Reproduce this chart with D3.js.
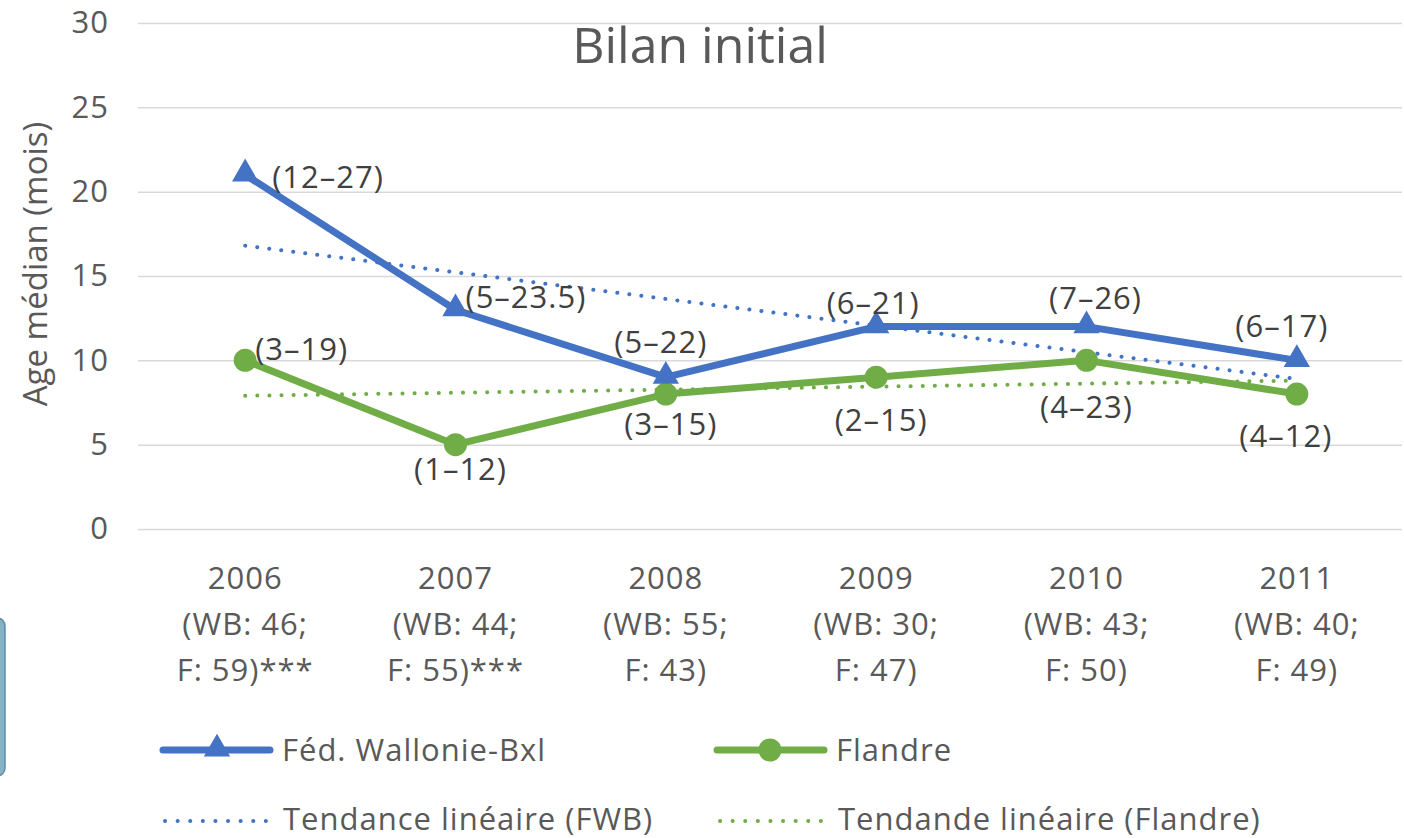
<!DOCTYPE html>
<html>
<head>
<meta charset="utf-8">
<script src="https://cdn.jsdelivr.net/npm/d3@7"></script>
<style>
    body { margin: 0; background: #fff; }
    svg { display: block; font-family: "Open Sans", sans-serif; }
</style>
</head>
<body>
<svg id="chart"></svg>
<script>
"use strict";

const width = 1404;
const height = 838;

// data
const years = ["2006", "2007", "2008", "2009", "2010", "2011"];
const sampleLines = [
    ["(WB: 46;", "F: 59)***"],
    ["(WB: 44;", "F: 55)***"],
    ["(WB: 55;", "F: 43)"],
    ["(WB: 30;", "F: 47)"],
    ["(WB: 43;", "F: 50)"],
    ["(WB: 40;", "F: 49)"]
];
const fwbValues = [21, 13, 9, 12, 12, 10];
const flandreValues = [10, 5, 8, 9, 10, 8];
const fwbRanges = ["(12–27)", "(5–23.5)", "(5–22)", "(6–21)", "(7–26)", "(6–17)"];
const flandreRanges = ["(3–19)", "(1–12)", "(3–15)", "(2–15)", "(4–23)", "(4–12)"];
// linear trend end points (2006 and 2011)
const trendYears = ["2006", "2011"];
const fwbTrend = [16.8, 8.9];
const flandreTrend = [7.9, 8.8];
const yTicks = [0, 5, 10, 15, 20, 25, 30];

// label placement relative to the marker: [dx, dy of text centre, anchor]
const fwbLabelPos = [[27, 3, "start"], [10, -12, "start"], [-5, -34, "middle"],
    [-3, -23, "middle"], [9, -28, "middle"], [-15, -33, "middle"]];
const flandreLabelPos = [[10, -10, "start"], [5, 25, "middle"], [5, 31, "middle"],
    [5, 44, "middle"], [0, 48, "middle"], [-11, 43, "middle"]];

const blue = "#4472c4";
const green = "#70ad47";
const textColor = "#595959";
const labelColor = "#404040";
const fontSize = 31;
const spacing = "1px";

const svg = d3.select("#chart")
    .attr("width", width)
    .attr("height", height);

const x_scale = d3.scalePoint()
    .domain(years)
    .range([140, 1402])
    .padding(0.5);

const y_scale = d3.scaleLinear()
    .domain([0, 30])
    .range([529, 23]);

// slide fragment on the left edge
svg.append("rect")
    .attr("x", -30).attr("y", 618)
    .attr("width", 35).attr("height", 158)
    .attr("rx", 8)
    .attr("fill", "#85b2c6")
    .attr("stroke", "#5f8ea4")
    .attr("stroke-width", 1.5);

// gridlines + y axis
const axis_y = svg.append("g")
    .attr("transform", "translate(138, 0)")
    .call(d3.axisLeft(y_scale).tickValues(yTicks).tickSize(-(1402 - 138)).tickPadding(29));
axis_y.select(".domain").remove();
axis_y.selectAll(".tick line").attr("stroke", "#d9d9d9").attr("stroke-width", 1.5);
axis_y.selectAll(".tick text")
    .attr("fill", textColor)
    .style("font-size", fontSize + "px")
    .style("letter-spacing", spacing)
    .style("font-family", "'Open Sans', sans-serif");

svg.append("text")
    .attr("transform", "translate(47, 264) rotate(-90)")
    .attr("text-anchor", "middle")
    .attr("fill", textColor)
    .style("font-size", "33px")
    .text("Age médian (mois)");

// title
svg.append("text")
    .attr("x", 700).attr("y", 63)
    .attr("text-anchor", "middle")
    .attr("fill", textColor)
    .style("font-size", "50px")
    .text("Bilan initial");

// x axis labels
const xlab = svg.append("g")
    .selectAll("text")
    .data(years)
    .enter()
    .append("text")
    .attr("text-anchor", "middle")
    .attr("fill", textColor)
    .style("font-size", fontSize + "px")
    .style("letter-spacing", spacing);
xlab.each(function (d, i) {
    const t = d3.select(this);
    const lines = [d].concat(sampleLines[i]);
    lines.forEach((s, j) => {
        t.append("tspan")
            .attr("x", x_scale(d))
            .attr("y", 589 + j * 46)
            .text(s);
    });
});

// trend lines
const trendLine = d3.line()
    .x(d => x_scale(d[0]))
    .y(d => y_scale(d[1]));

svg.append("path")
    .datum(d3.zip(trendYears, flandreTrend))
    .attr("d", trendLine)
    .attr("fill", "none")
    .attr("stroke", green)
    .attr("stroke-width", 4)
    .attr("stroke-linecap", "round")
    .attr("stroke-dasharray", "0.1 12");

svg.append("path")
    .datum(d3.zip(trendYears, fwbTrend))
    .attr("d", trendLine)
    .attr("fill", "none")
    .attr("stroke", blue)
    .attr("stroke-width", 4)
    .attr("stroke-linecap", "round")
    .attr("stroke-dasharray", "0.1 12");

// series lines
const seriesLine = d3.line()
    .x((d, i) => x_scale(years[i]))
    .y(d => y_scale(d));

svg.append("path")
    .datum(flandreValues)
    .attr("d", seriesLine)
    .attr("fill", "none")
    .attr("stroke", green)
    .attr("stroke-width", 7)
    .attr("stroke-linejoin", "round");

svg.append("path")
    .datum(fwbValues)
    .attr("d", seriesLine)
    .attr("fill", "none")
    .attr("stroke", blue)
    .attr("stroke-width", 7)
    .attr("stroke-linejoin", "round");

const triangle = d3.symbol().type(d3.symbolTriangle).size(300);

svg.append("g")
    .selectAll("circle")
    .data(flandreValues)
    .enter()
    .append("circle")
    .attr("cx", (d, i) => x_scale(years[i]))
    .attr("cy", d => y_scale(d))
    .attr("r", 11.5)
    .attr("fill", green);

svg.append("g")
    .selectAll("path")
    .data(fwbValues)
    .enter()
    .append("path")
    .attr("d", triangle)
    .attr("transform", (d, i) => `translate(${x_scale(years[i])}, ${y_scale(d) - 1})`)
    .attr("fill", blue);

// data labels
function addLabels(values, texts, pos) {
    svg.append("g")
        .selectAll("text")
        .data(values)
        .enter()
        .append("text")
        .attr("x", (d, i) => x_scale(years[i]) + pos[i][0])
        .attr("y", (d, i) => y_scale(d) + pos[i][1] + 10)
        .attr("text-anchor", (d, i) => pos[i][2])
        .attr("fill", labelColor)
        .style("font-size", fontSize + "px")
        .style("letter-spacing", spacing)
        .text((d, i) => texts[i]);
}
addLabels(fwbValues, fwbRanges, fwbLabelPos);
addLabels(flandreValues, flandreRanges, flandreLabelPos);

// legend
const legendItems = [
    { name: "Féd. Wallonie-Bxl", color: blue, kind: "triangle", x: 160, y: 750 },
    { name: "Flandre", color: green, kind: "circle", x: 714, y: 750 },
    { name: "Tendance linéaire (FWB)", color: blue, kind: "dots", x: 163, y: 821 },
    { name: "Tendande linéaire (Flandre)", color: green, kind: "dots", x: 718, y: 821 }
];

const legend = svg.append("g")
    .selectAll("g")
    .data(legendItems)
    .enter()
    .append("g")
    .attr("transform", d => `translate(${d.x}, ${d.y})`);

legend.each(function (d) {
    const g = d3.select(this);
    if (d.kind === "dots") {
        g.append("line")
            .attr("x1", 2).attr("x2", 104)
            .attr("stroke", d.color)
            .attr("stroke-width", 4)
            .attr("stroke-linecap", "round")
            .attr("stroke-dasharray", "0.1 12.5");
        g.append("text")
            .attr("x", 120).attr("y", 9)
            .attr("fill", textColor)
            .style("font-size", fontSize + "px")
            .style("letter-spacing", spacing)
            .text(d.name);
    } else {
        g.append("line")
            .attr("x1", 3).attr("x2", 110)
            .attr("stroke", d.color)
            .attr("stroke-width", 7)
            .attr("stroke-linecap", "round");
        if (d.kind === "triangle") {
            g.append("path")
                .attr("d", triangle)
                .attr("transform", "translate(57, -1)")
                .attr("fill", d.color);
        } else {
            g.append("circle")
                .attr("cx", 56).attr("r", 11.5)
                .attr("fill", d.color);
        }
        g.append("text")
            .attr("x", 122).attr("y", 11)
            .attr("fill", textColor)
            .style("font-size", fontSize + "px")
            .style("letter-spacing", spacing)
            .text(d.name);
    }
});
</script>
</body>
</html>
